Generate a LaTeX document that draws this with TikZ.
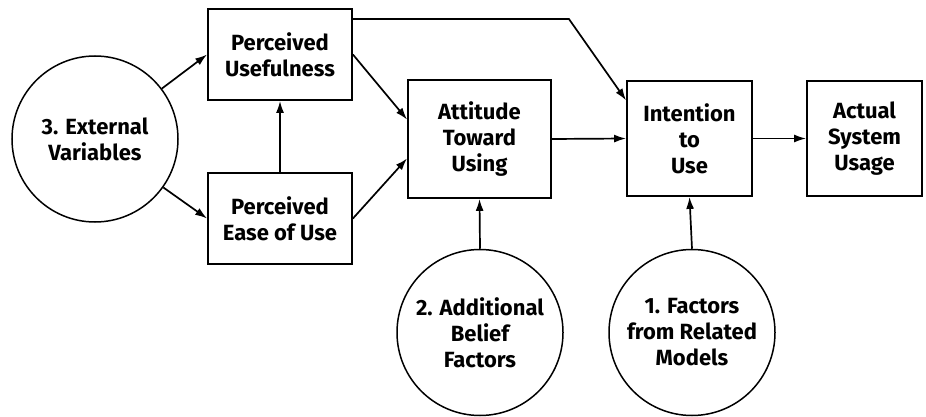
\documentclass[tikz,border=0pt]{standalone}
\usepackage{fontspec}
\setsansfont{Fira Sans}
\usetikzlibrary{arrows.meta}
\tikzset{
  tamnode/.style = {align=center, inner sep=0pt, text centered, font=\sffamily\bfseries\fontsize{22}{26}\selectfont},
  % factor node: empty circle, numbered text inside
  tam_C/.style = {tamnode, circle, draw=black, line width=1.5pt, minimum size=166pt},
  % construct node: plain box
  tam_B/.style = {tamnode, rectangle, draw=black, line width=1.8pt}
}

\begin{document}
\begin{tikzpicture}[x=1pt,y=-1pt,
		->,>={Latex[length=12pt,width=8pt]}, line width=1.7pt
		]
		\useasboundingbox (0,0) rectangle (926,417);
		% External factors:
		\node [tam_C] (ext) at (95,139) {3. External\\Variables};
		\node [tam_C] (addb) at (480,332.5) {2. Additional\\Belief\\Factors};
		\node [tam_C] (frm) at (692,332.5) {1. Factors\\from Related\\Models};
		% Beliefs:
		\node [tam_B][minimum width=144pt, minimum height=91pt] (pu) at (280,54.5) {Perceived\\Usefulness};
		\node [tam_B][minimum width=144pt, minimum height=91pt] (peou) at (280,218.5) {Perceived\\Ease of Use};
		% Attitude, intention, usage:
		\node [tam_B][minimum width=143pt, minimum height=118pt] (att) at (479.5,139) {Attitude\\Toward\\Using};
		\node [tam_B][minimum width=125pt, minimum height=115pt] (int) at (689.5,138.5) {Intention\\to\\Use};
		\node [tam_B][minimum width=115pt, minimum height=115pt] (use) at (864.5,138.5) {Actual\\System\\Usage};
		% Arrows:
		\draw (ext) -- (pu.west);
		\draw (ext) -- (peou.west);
		\draw (peou.north) -- (pu.south);
		\draw (pu.east) -- (att.165);
		\draw (peou.east) -- (att.195);
		\draw (pu.26) -- ++(216,0) -- (int.149);
		\draw (att.east) -- (int.west);
		\draw (int.east) -- (use.west);
		\draw (addb.north) -- (att.south);
		\draw (frm.north) -- (int.south);
	\end{tikzpicture}
\end{document}
